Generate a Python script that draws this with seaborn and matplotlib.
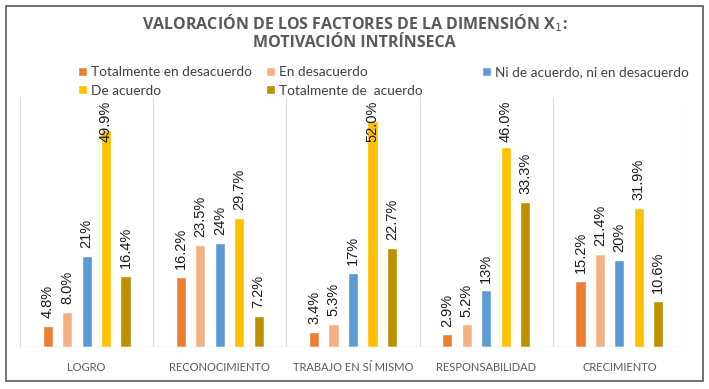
import matplotlib
matplotlib.use("Agg")
import matplotlib.pyplot as plt
from matplotlib.patches import Rectangle
import seaborn as sns
import pandas as pd

# Data
factores = ["LOGRO", "RECONOCIMIENTO", "TRABAJO EN SÍ MISMO", "RESPONSABILIDAD", "CRECIMIENTO"]
respuestas = ["Totalmente en desacuerdo", "En desacuerdo", "Ni de acuerdo, ni en desacuerdo",
              "De acuerdo", "Totalmente de  acuerdo"]
tot_desacuerdo = [4.8, 16.2, 3.4, 2.9, 15.2]
en_desacuerdo = [8.0, 23.5, 5.3, 5.2, 21.4]
ni_ni = [21, 24, 17, 13, 20]
de_acuerdo = [49.9, 29.7, 52.0, 46.0, 31.9]
tot_acuerdo = [16.4, 7.2, 22.7, 33.3, 10.6]
decimales = [1, 1, 0, 1, 1]
colores = ["#ED7D31", "#F4B183", "#5B9BD5", "#FFC000", "#BF9000"]

series = [tot_desacuerdo, en_desacuerdo, ni_ni, de_acuerdo, tot_acuerdo]
rows = []
for resp, vals in zip(respuestas, series):
    for fac, v in zip(factores, vals):
        rows.append({"factor": fac, "respuesta": resp, "valor": v})
df = pd.DataFrame(rows)

sns.set_style("white")
plt.rcParams['font.family'] = ['Lato', 'DejaVu Sans']

fig = plt.figure(figsize=(7.09, 3.89), dpi=100)
ax = fig.add_axes([20 / 709, 1 - 347 / 389, 666 / 709, 250 / 389])

sns.barplot(data=df, x="factor", y="valor", hue="respuesta", order=factores,
            hue_order=respuestas, palette=colores, width=0.73, gap=0.48,
            saturation=1, ax=ax)

ymax = 57.5
ax.set_ylim(0, ymax)
ax.set_xlim(-0.5, len(factores) - 0.5)

# data labels
for cont, dec in zip(ax.containers, decimales):
    for bar in cont:
        h = bar.get_height()
        x = bar.get_x() + bar.get_width() / 2
        y = min(h + 1.8, ymax - 10.3)
        ax.text(x, y, f"{h:.{dec}f}%", rotation=90, ha="center", va="bottom",
                fontsize=10.5, color="#1a1a1a", family=['Liberation Sans', 'DejaVu Sans'],
                clip_on=False, zorder=5)

for b in range(len(factores) + 1):
    ax.axvline(b - 0.5, color="#D9D9D9", lw=0.8, zorder=0)
ax.axhline(0, color="#D9D9D9", lw=1, zorder=1)

for s in ax.spines.values():
    s.set_visible(False)
ax.set_yticks([])
ax.set_xlabel("")
ax.set_ylabel("")
ax.tick_params(axis="x", length=0, pad=11, labelsize=8, labelcolor="#595959")

handles, labels = ax.get_legend_handles_labels()
ax.get_legend().remove()
cols = [([0, 3], 73), ([1, 4], 261), ([2], 477)]
for idx, xpx in cols:
    fig.legend([handles[i] for i in idx], [labels[i] for i in idx],
               loc="upper left", bbox_to_anchor=(xpx / 709, 1 - 61 / 389),
               frameon=False, fontsize=9.8, handlelength=0.6, handleheight=0.6,
               handletextpad=0.3, labelspacing=0.45, borderaxespad=0,
               labelcolor="#404040")

fig.text(0.5, 1 - 23 / 389, "VALORACIÓN DE LOS FACTORES DE LA DIMENSIÓN X$_1$:",
         ha="center", va="center", fontsize=11.5, fontweight="bold", color="#595959",
         family=['Open Sans', 'DejaVu Sans'])
fig.text(0.5, 1 - 43 / 389, "MOTIVACIÓN INTRÍNSECA",
         ha="center", va="center", fontsize=11.5, fontweight="bold", color="#595959",
         family=['Open Sans', 'DejaVu Sans'])

fig.patches.append(Rectangle((6 / 709, 1 - 381 / 389), 697 / 709, 375 / 389,
                             transform=fig.transFigure, fill=False,
                             edgecolor="#595959", lw=1.2))

fig.savefig("out.png", dpi=100)
